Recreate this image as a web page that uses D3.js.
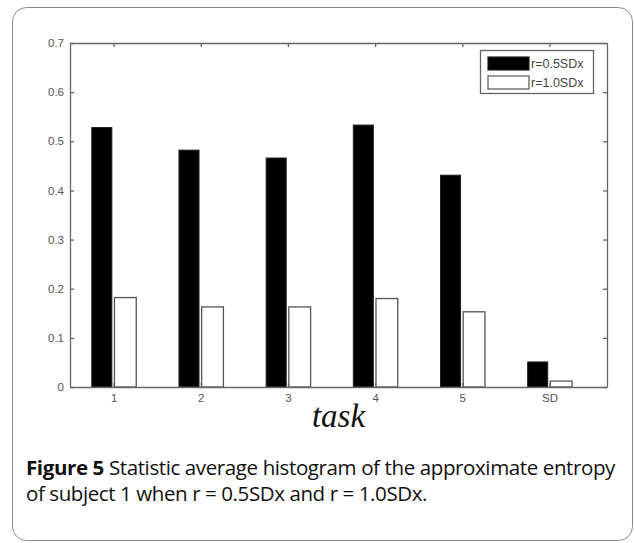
<!DOCTYPE html>
<html>
<head>
<meta charset="utf-8">
<script src="https://cdn.jsdelivr.net/npm/d3@7"></script>
<style>
  body { margin: 0; background: #fff; }
</style>
</head>
<body>
<script>
// values
const tasks = ["1", "2", "3", "4", "5", "SD"];
const r05 = [0.528, 0.482, 0.466, 0.533, 0.431, 0.051];
const r10 = [0.182, 0.163, 0.163, 0.180, 0.153, 0.012];
const yTicks = [0, 0.1, 0.2, 0.3, 0.4, 0.5, 0.6, 0.7];
const seriesNames = ["r=0.5SDx", "r=1.0SDx"];

const w = 634;
const h = 543;

const svg = d3.select("body")
        .append("svg")
        .attr("width", w)
        .attr("height", h)

// outer figure frame
svg.append("rect")
        .attr("x", 12.5)
        .attr("y", 7.5)
        .attr("width", 620)
        .attr("height", 533)
        .attr("rx", 14)
        .attr("fill", "none")
        .attr("stroke", "#8a8a8a")
        .attr("stroke-width", 1)

const plot = { left: 70, right: 607, top: 43, bottom: 387 };

const xScale = d3.scaleLinear()
        .domain([0.5, 6.66])
        .range([plot.left, plot.right])

const yScale = d3.scaleLinear()
        .domain([0, 0.7])
        .range([plot.bottom, plot.top])

const axisColor = "#666";

// bars
const g = svg.append("g")

g.selectAll("rect.black")
        .data(r05)
        .enter()
        .append("rect")
        .attr("class", "black")
        .attr("x", (d, i) => xScale(i + 1 - 0.25))
        .attr("width", (d, i) => xScale(i + 1 - 0.02) - xScale(i + 1 - 0.25))
        .attr("y", d => yScale(d))
        .attr("height", d => yScale(0) - yScale(d))
        .attr("fill", "#000")
        .attr("stroke", "#222")
        .attr("stroke-width", 1)

g.selectAll("rect.white")
        .data(r10)
        .enter()
        .append("rect")
        .attr("class", "white")
        .attr("x", (d, i) => xScale(i + 1 + 0.01))
        .attr("width", (d, i) => xScale(i + 1 + 0.26) - xScale(i + 1 + 0.01))
        .attr("y", d => yScale(d))
        .attr("height", d => yScale(0) - yScale(d))
        .attr("fill", "#fff")
        .attr("stroke", "#555")
        .attr("stroke-width", 1.3)

// axes, ticks pointing inward
const cats = tasks.map((t, i) => i + 1);

svg.append("g")
        .attr("transform", `translate(${plot.left},0)`)
        .call(d3.axisLeft(yScale).tickValues(yTicks).tickFormat(d => d === 0 ? "0" : d3.format(".1f")(d))
                .tickSizeInner(-4).tickSizeOuter(0).tickPadding(6))

svg.append("g")
        .attr("transform", `translate(${plot.right},0)`)
        .call(d3.axisRight(yScale).tickValues(yTicks).tickFormat("")
                .tickSizeInner(-4).tickSizeOuter(0))

svg.append("g")
        .attr("transform", `translate(0,${plot.bottom})`)
        .call(d3.axisBottom(xScale).tickValues(cats).tickFormat((d, i) => tasks[i])
                .tickSizeInner(-4).tickSizeOuter(0).tickPadding(7))

svg.append("g")
        .attr("transform", `translate(0,${plot.top})`)
        .call(d3.axisTop(xScale).tickValues(cats).tickFormat("")
                .tickSizeInner(-4).tickSizeOuter(0))

svg.selectAll(".domain, .tick line")
        .attr("stroke", axisColor)
        .attr("stroke-width", 1.3)

svg.selectAll(".tick text")
        .attr("fill", "#555")
        .style("font-family", "'Liberation Sans', Arial, sans-serif")
        .style("font-size", "11.5px")

// legend
const lg = svg.append("g")
lg.append("rect")
        .attr("x", 480.5)
        .attr("y", 50.5)
        .attr("width", 113)
        .attr("height", 43)
        .attr("fill", "#fff")
        .attr("stroke", axisColor)
        .attr("stroke-width", 1.3)

const swatchFill = ["#000", "#fff"];
const swatchStroke = ["#222", "#555"];
seriesNames.forEach(function (name, i) {
        lg.append("rect")
                .attr("x", 488)
                .attr("y", 57 + i * 19)
                .attr("width", 41)
                .attr("height", 13)
                .attr("fill", swatchFill[i])
                .attr("stroke", swatchStroke[i])
                .attr("stroke-width", 1.2)
        lg.append("text")
                .attr("x", 531)
                .attr("y", 68 + i * 19)
                .text(name)
                .attr("fill", "#444")
                .style("font-family", "'Liberation Sans', Arial, sans-serif")
                .style("font-size", "12.5px")
})

// x axis title
svg.append("text")
        .attr("x", (plot.left + plot.right) / 2)
        .attr("y", 427)
        .attr("text-anchor", "middle")
        .text("task")
        .style("font-family", "'Liberation Serif', 'Times New Roman', serif")
        .style("font-style", "italic")
        .style("font-size", "33px")
        .attr("fill", "#111")

// caption
const cap1 = svg.append("text")
        .attr("x", 26)
        .attr("y", 475)
        .attr("textLength", 589)
        .attr("lengthAdjust", "spacingAndGlyphs")
        .style("font-family", "'Open Sans', 'Noto Sans', sans-serif")
        .style("font-size", "20px")
        .style("letter-spacing", "-0.4px")
        .attr("fill", "#111")
cap1.append("tspan").style("font-weight", "bold").text("Figure 5")
cap1.append("tspan").text(" Statistic average histogram of the approximate entropy")

svg.append("text")
        .attr("x", 26)
        .attr("y", 501)
        .attr("textLength", 401)
        .attr("lengthAdjust", "spacingAndGlyphs")
        .style("font-family", "'Open Sans', 'Noto Sans', sans-serif")
        .style("font-size", "20px")
        .style("letter-spacing", "-0.4px")
        .attr("fill", "#111")
        .text("of subject 1 when r = 0.5SDx and r = 1.0SDx.")
</script>
</body>
</html>
